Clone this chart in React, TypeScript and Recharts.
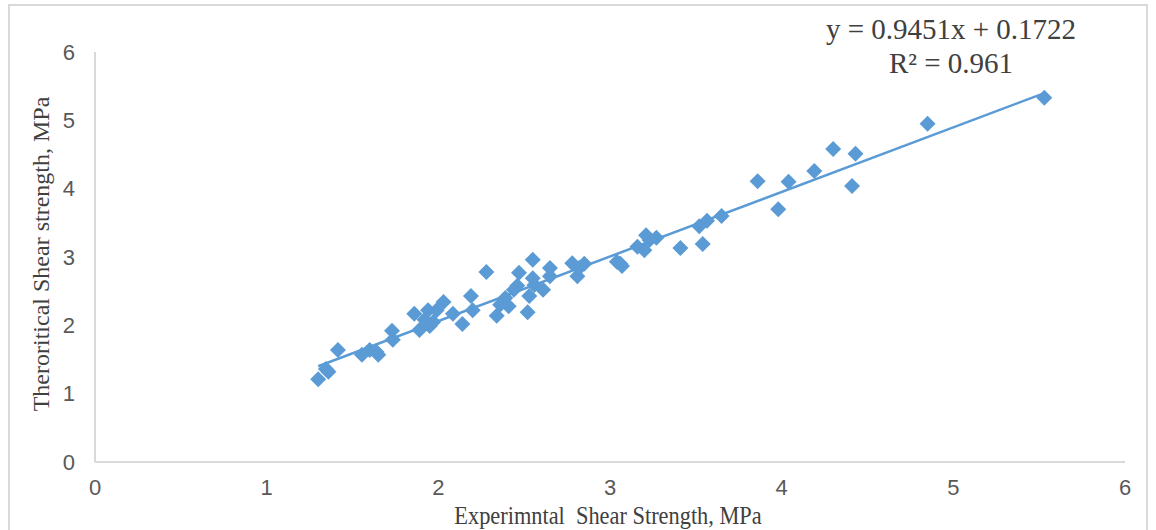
import React from "react";
import { ScatterChart, Scatter, XAxis, YAxis, ReferenceLine } from "recharts";

const expX = [1.30,1.345,1.36,1.415,1.555,1.60,1.64,1.65,1.73,1.735,1.86,1.89,1.92,1.94,1.95,1.97,1.99,2.03,2.085,2.14,2.19,2.20,2.28,2.34,2.36,2.39,2.41,2.44,2.46,2.47,2.52,2.53,2.55,2.55,2.56,2.61,2.65,2.65,2.78,2.81,2.82,2.85,3.04,3.06,3.07,3.16,3.20,3.21,3.23,3.27,3.41,3.52,3.54,3.565,3.65,3.86,3.98,4.04,4.19,4.30,4.41,4.43,4.85,5.53];
const theoY = [1.21,1.36,1.32,1.64,1.57,1.64,1.61,1.57,1.92,1.79,2.17,1.93,2.08,2.22,1.99,2.05,2.22,2.34,2.17,2.02,2.43,2.22,2.78,2.14,2.30,2.40,2.28,2.52,2.58,2.77,2.19,2.43,2.96,2.69,2.59,2.52,2.72,2.84,2.91,2.72,2.84,2.90,2.93,2.90,2.87,3.15,3.10,3.32,3.25,3.28,3.13,3.45,3.19,3.53,3.60,4.11,3.70,4.10,4.26,4.58,4.04,4.51,4.95,5.33];
const ticks = [0, 1, 2, 3, 4, 5, 6];
const slope = 0.9451;
const intercept = 0.1722;
const equationText = "y = 0.9451x + 0.1722";
const r2Text = "R² = 0.961";
const xTitle = "Experimntal  Shear Strength, MPa";
const yTitle = "Theroritical Shear strength, MPa";

const data = expX.map((x, i) => ({ x, y: theoY[i] }));
const xMin = Math.min(...expX);
const xMax = Math.max(...expX);
const trend = [
  { x: xMin, y: slope * xMin + intercept },
  { x: xMax, y: slope * xMax + intercept },
];

const COLOR = "#5B9BD5";

const Diamond = (props: any) => {
  const { cx, cy } = props;
  const r = 8;
  return (
    <polygon
      points={`${cx},${cy - r} ${cx + r},${cy} ${cx},${cy + r} ${cx - r},${cy}`}
      fill={COLOR}
      stroke="none"
    />
  );
};

const tickStyle = { fill: "#595959", fontSize: 22, fontFamily: "Liberation Sans, Arial, sans-serif" };

export default function App() {
  return (
    <div style={{ position: "fixed", left: 0, top: 0, width: 1156, height: 530, background: "#fff", overflow: "hidden" }}>
      <div
        style={{
          position: "absolute",
          left: 8,
          top: 4,
          width: 1140,
          height: 540,
          border: "2px solid #d9d9d9",
          boxSizing: "border-box",
        }}
      />
      <ScatterChart width={1156} height={530} margin={{ top: 52, right: 31, bottom: 38, left: 35 }}>
        <XAxis
          type="number"
          dataKey="x"
          domain={[0, 6]}
          ticks={ticks}
          tickLine={false}
          axisLine={{ stroke: "#d9d9d9", strokeWidth: 2 }}
          tick={tickStyle}
          tickMargin={11}
          height={30}
        />
        <YAxis
          type="number"
          dataKey="y"
          domain={[0, 6]}
          ticks={ticks}
          tickLine={false}
          axisLine={{ stroke: "#d9d9d9", strokeWidth: 2 }}
          tick={tickStyle}
          tickMargin={14}
          width={60}
        />
        <Scatter data={data} shape={<Diamond />} isAnimationActive={false} />
        <ReferenceLine
          segment={trend}
          stroke={COLOR}
          strokeWidth={2.5}
          ifOverflow="visible"
        />
      </ScatterChart>
      <div
        style={{
          position: "absolute",
          left: 0,
          width: 1216,
          top: 501,
          textAlign: "center",
          fontFamily: "Liberation Serif, Times New Roman, serif",
          fontSize: 26,
          lineHeight: "30px",
          color: "#404040",
          whiteSpace: "pre",
          transform: "scaleX(0.86)",
          transformOrigin: "608px 0",
        }}
      >
        {xTitle}
      </div>
      <div
        style={{
          position: "absolute",
          left: 41,
          top: 254,
          transform: "translate(-50%, -50%) rotate(-90deg)",
          fontFamily: "Liberation Serif, Times New Roman, serif",
          fontSize: 24,
          color: "#404040",
          whiteSpace: "pre",
        }}
      >
        {yTitle}
      </div>
      <div
        style={{
          position: "absolute",
          left: 801,
          width: 300,
          top: 12,
          textAlign: "center",
          fontFamily: "Liberation Serif, Times New Roman, serif",
          fontSize: 29,
          lineHeight: "34px",
          color: "#404040",
          whiteSpace: "pre",
        }}
      >
        <div>{equationText}</div>
        <div>{r2Text}</div>
      </div>
    </div>
  );
}
